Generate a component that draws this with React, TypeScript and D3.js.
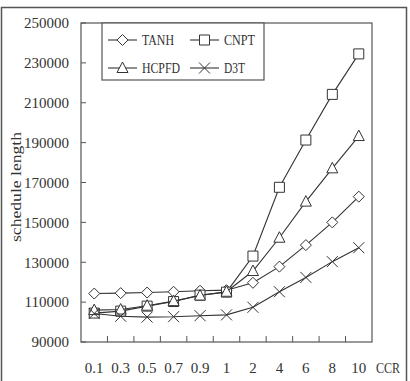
import { line, scaleBand, scaleLinear, range } from "d3";

const ccr = ["0.1", "0.3", "0.5", "0.7", "0.9", "1", "2", "4", "6", "8", "10"];
const tanh = [114300, 114500, 114800, 115200, 115700, 116000, 119700, 127800, 138600, 150000, 162900];
const cnpt = [104500, 105500, 108000, 110300, 113500, 115000, 133100, 167600, 191300, 214200, 234500];
const hcpfd = [106000, 106300, 108200, 110500, 113300, 115200, 125600, 142300, 160400, 177100, 193300];
const d3t = [104300, 102900, 102500, 102700, 103200, 103600, 107400, 115200, 122400, 130300, 137300];
const yTicks = [90000, 110000, 130000, 150000, 170000, 190000, 210000, 230000, 250000];

const series = [
  { name: "TANH", values: tanh, marker: "diamond" },
  { name: "CNPT", values: cnpt, marker: "square" },
  { name: "HCPFD", values: hcpfd, marker: "triangle" },
  { name: "D3T", values: d3t, marker: "cross" },
];

const font = "'Liberation Serif', 'Times New Roman', serif";
const ink = "#333";

const markerPath = (type: string, x: number, y: number) => {
  if (type === "diamond") return `M${x},${y - 5.5}L${x + 5.5},${y}L${x},${y + 5.5}L${x - 5.5},${y}Z`;
  if (type === "square") return `M${x - 5},${y - 5}h10v10h-10Z`;
  if (type === "triangle") return `M${x},${y - 6}L${x + 5.5},${y + 4.5}L${x - 5.5},${y + 4.5}Z`;
  return `M${x - 5.5},${y - 5.5}L${x + 5.5},${y + 5.5}M${x + 5.5},${y - 5.5}L${x - 5.5},${y + 5.5}`;
};

const App = () => {
  const width = 410;
  const height = 381;
  const margin = { top: 23, left: 81, right: 38, bottom: 39 };
  const innerWidth = width - margin.left - margin.right;
  const innerHeight = height - margin.top - margin.bottom;

  const xScale = scaleBand().domain(ccr).range([0, innerWidth]);
  const yScale = scaleLinear().domain([90000, 250000]).range([innerHeight, 0]);
  const cx = (c: string) => xScale(c) + xScale.bandwidth() / 2;

  const path = line<number>()
    .x((_, i) => cx(ccr[i]))
    .y((d) => yScale(d));

  // legend positions, relative to the plot area
  const legend = [
    { s: series[0], x: 27, y: 17 },
    { s: series[1], x: 109, y: 17 },
    { s: series[2], x: 27, y: 45 },
    { s: series[3], x: 109, y: 45 },
  ];
  const legendWidths = { TANH: 32, CNPT: 31, HCPFD: 38, D3T: 21 };

  return (
    <svg
      width={width}
      height={height}
      style={{ position: "absolute", left: 0, top: 0, background: "#fff" }}
      fontFamily={font}
    >
      <rect x={1.5} y={7.5} width={405} height={400} fill="#fff" stroke="#555" strokeWidth={1.5} />
      <text
        transform={`translate(21, 187) rotate(-90)`}
        textAnchor="middle"
        fontSize={15}
        fill={ink}
        textLength={110}
        lengthAdjust="spacingAndGlyphs"
      >
        schedule length
      </text>
      <g transform={`translate(${margin.left}, ${margin.top})`}>
        <rect x={0} y={0} width={innerWidth} height={innerHeight} fill="none" stroke="#555" strokeWidth={1.2} />
        {yTicks.map((t) => (
          <g key={t} transform={`translate(0, ${yScale(t)})`}>
            <line x2={5} stroke="#555" />
            <text x={-12} dy=".35em" textAnchor="end" fontSize={15} fill={ink}>
              {t}
            </text>
          </g>
        ))}
        {range(1, ccr.length).map((i) => (
          <line
            key={i}
            x1={xScale(ccr[i])}
            x2={xScale(ccr[i])}
            y1={innerHeight}
            y2={innerHeight - 6}
            stroke="#555"
          />
        ))}
        {ccr.map((c) => (
          <text key={c} x={cx(c)} y={innerHeight + 31} textAnchor="middle" fontSize={15} fill={ink}>
            {c}
          </text>
        ))}
        <text
          x={innerWidth + 4}
          y={innerHeight + 31}
          fontSize={15}
          fill={ink}
          textLength={24}
          lengthAdjust="spacingAndGlyphs"
        >
          CCR
        </text>
        {series.map((s) => (
          <g key={s.name}>
            <path d={path(s.values)} fill="none" stroke={ink} strokeWidth={1.1} />
            {s.values.map((v, i) => (
              <path
                key={i}
                d={markerPath(s.marker, cx(ccr[i]), yScale(v))}
                fill="#fff"
                stroke={ink}
                strokeWidth={1}
              />
            ))}
          </g>
        ))}
        <rect x={21} y={0} width={162} height={57} fill="#fff" stroke="#555" strokeWidth={1.2} />
        {legend.map(({ s, x, y }) => (
          <g key={s.name}>
            <line x1={x} x2={x + 29} y1={y} y2={y} stroke={ink} strokeWidth={1.1} />
            <path d={markerPath(s.marker, x + 14.5, y)} fill="#fff" stroke={ink} />
            <text
              x={x + 34}
              y={y}
              dy=".35em"
              fontSize={15}
              fill={ink}
              textLength={legendWidths[s.name]}
              lengthAdjust="spacingAndGlyphs"
            >
              {s.name}
            </text>
          </g>
        ))}
      </g>
    </svg>
  );
};

export default App;
